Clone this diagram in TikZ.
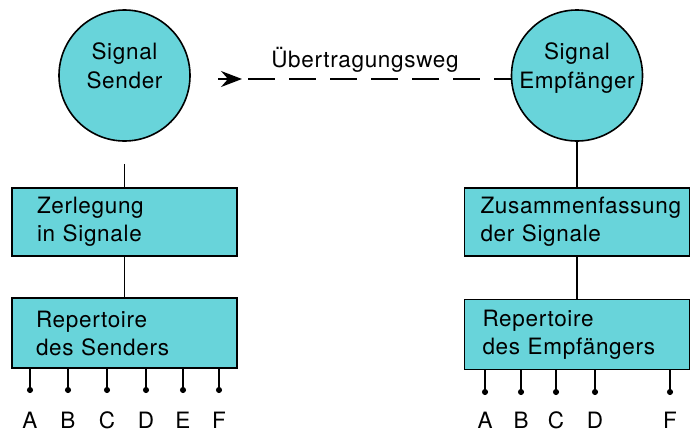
\documentclass[tikz,border=0pt]{standalone}
\usepackage{fontspec}
\setmainfont{TeX Gyre Heros}[LetterSpace=3]
\usepackage{xcolor}
\usepackage{tikz}
\usetikzlibrary{arrows.meta,calc}
\definecolor{signalcyan}{RGB}{104,212,218}

\begin{document}
\begin{tikzpicture}[x=1pt,y=1pt,yscale=-1,xscale=1,
  sigcircle/.style={circle,draw,line width=1.6pt,fill=signalcyan,minimum size=131pt,inner sep=0pt},
  sigbox/.style={rectangle,draw,line width=1.6pt,fill=signalcyan,minimum width=225pt,minimum height=68pt,align=left,font=\fontsize{22.5}{28}\selectfont},
  bigtxt/.style={font=\fontsize{22.5}{29}\selectfont,align=center,inner sep=0pt},
  link/.style={line width=1.4pt},
  pin/.style={line width=1.4pt,-{Circle[length=6pt]}}
]
\useasboundingbox (0,0) rectangle (698,432);

%Shape: Circle (sender)
\node[sigcircle] (sender) at (124.5,75.5) {};
%Shape: Circle (receiver)
\node[sigcircle] (receiver) at (577,75.5) {};

%Shape: Rectangle (left column)
\node[sigbox,inner xsep=25pt,text width=175pt] (split) at (124.5,222) {Zerlegung\\in Signale};
\node[sigbox,inner xsep=24pt,text width=177pt,minimum height=70pt] (reps) at (124.5,333) {Repertoire\\des Senders};
%Shape: Rectangle (right column)
\node[sigbox,inner xsep=16pt,text width=193pt] (merge) at (577,222) {Zusammenfassung\\der Signale};
\node[sigbox,inner xsep=18pt,text width=189pt,minimum height=70pt] (repe) at (577,334.5) {Repertoire\\des Empfängers};

% Text Node
\node[bigtxt,anchor=north] (sendertxt) at (124.5,42) {Signal\\Sender};
% Text Node
\node[bigtxt,anchor=north] (receivertxt) at (577,42) {Signal\\Empfänger};
% Text Node
\node[bigtxt,anchor=base] (channel) at (365,67) {Übertragungsweg};

%Straight Lines
\coordinate (sndgap) at ($(sender.south)+(0,22)$);
\draw[link] (sndgap) -- (split.north);
\draw[link] (split) -- (reps);
\draw[link] (receiver) -- (merge);
\draw[link] (merge) -- (repe);

%Dashed channel with arrow head
\coordinate (arrtail) at (218,79);
\coordinate (arrtip) at (242,79);
\coordinate (dashstart) at (248,79);
\draw[line width=1.6pt,-{Stealth[length=21pt,width=16pt,inset=7pt]}] (arrtail) -- (arrtip);
\draw[line width=1.8pt,dash pattern=on 27pt off 14pt] (dashstart) -- (dashstart -| receiver.west);

%Pins of the sender repertoire
\foreach \lt/\px in {A/30,B/68,C/107,D/146,E/183,F/219} {
  \coordinate (s\lt) at (\px,393);
  \draw[pin] (s\lt |- reps.south) -- (s\lt);
  \node[bigtxt] (ls\lt) at (\px,420) {\lt};
}
%Pins of the receiver repertoire
\foreach \lt/\px in {A/485,B/521,C/556,D/595,F/670} {
  \coordinate (e\lt) at (\px,395);
  \draw[pin] (e\lt |- repe.south) -- (e\lt);
  \node[bigtxt] (le\lt) at (\px,420) {\lt};
}

\end{tikzpicture}
\end{document}
